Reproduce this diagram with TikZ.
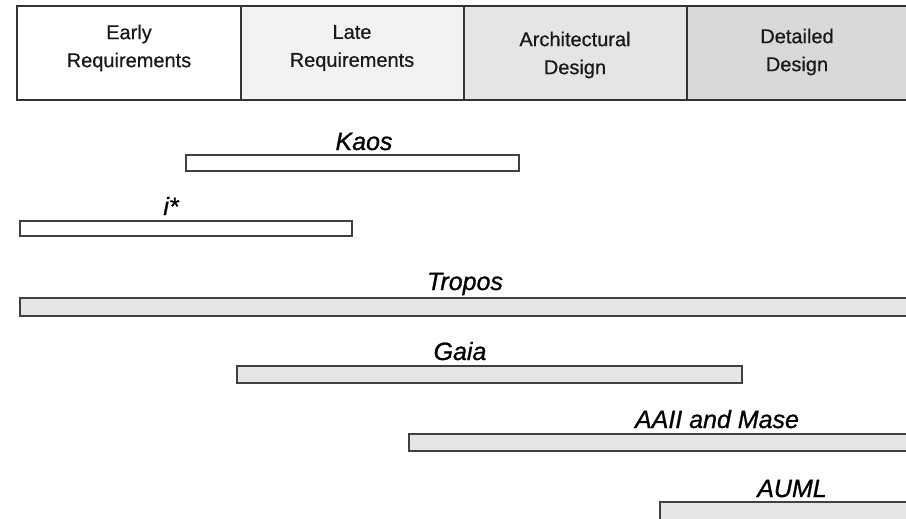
\documentclass[tikz,border=0pt]{standalone}
\usepackage{fontspec}
\setmainfont{Liberation Sans}
\newfontfamily\headfont[FakeBold=0.6]{Liberation Sans}
\newfontfamily\labelfont[FakeBold=0.9]{Liberation Sans}
\begin{document}
\begin{tikzpicture}[x=1pt,y=-1pt,
  cell/.style={draw=black!80,line width=1.3pt},
  celltext/.style={font=\headfont\fontsize{20}{28}\selectfont,align=center,inner sep=0pt,text=black!90},
  bar/.style={draw=black!75,line width=1.3pt},
  barlabel/.style={font=\labelfont\fontsize{25}{30}\selectfont\itshape,anchor=base,inner sep=0pt},
  lightbar/.style={bar,fill=gray!20},
  whitebar/.style={bar,fill=white}]
\useasboundingbox (0,0) rectangle (906,519);
\clip (0,0) rectangle (906,519);

% phase header
\fill[white] (17,6) rectangle (241,100);
\fill[gray!10] (241,6) rectangle (464,100);
\fill[gray!20] (464,6) rectangle (687,100);
\fill[gray!30] (687,6) rectangle (910,100);
\draw[cell] (17,6) rectangle (910,100);
\draw[cell] (241,6) -- (241,100);
\draw[cell] (464,6) -- (464,100);
\draw[cell] (687,6) -- (687,100);

\node[celltext] (early) at (129,48) {Early\\Requirements};
\node[celltext] (late) at (352,48) {Late\\Requirements};
\node[celltext] (arch) at (575,55) {Architectural\\Design};
\node[celltext] (detail) at (797,52) {Detailed\\Design};

% methodology coverage bars
\draw[whitebar] (186,155) rectangle (519,171);
\node[barlabel] (kaos) at (364,150) {Kaos};

\draw[whitebar] (20,221) rectangle (352,236);
\node[barlabel] (istar) at (171,215) {i*};

\draw[lightbar] (20,298) rectangle (912,316);
\node[barlabel] (tropos) at (465,290) {Tropos};

\draw[lightbar] (237,366) rectangle (742,383);
\node[barlabel] (gaia) at (460,360) {Gaia};

\draw[lightbar] (409,434) rectangle (912,451);
\node[barlabel] (aaii) at (717,428) {AAII and Mase};

\draw[lightbar] (660,502) rectangle (912,530);
\node[barlabel] (auml) at (792,497) {AUML};
\end{tikzpicture}
\end{document}
